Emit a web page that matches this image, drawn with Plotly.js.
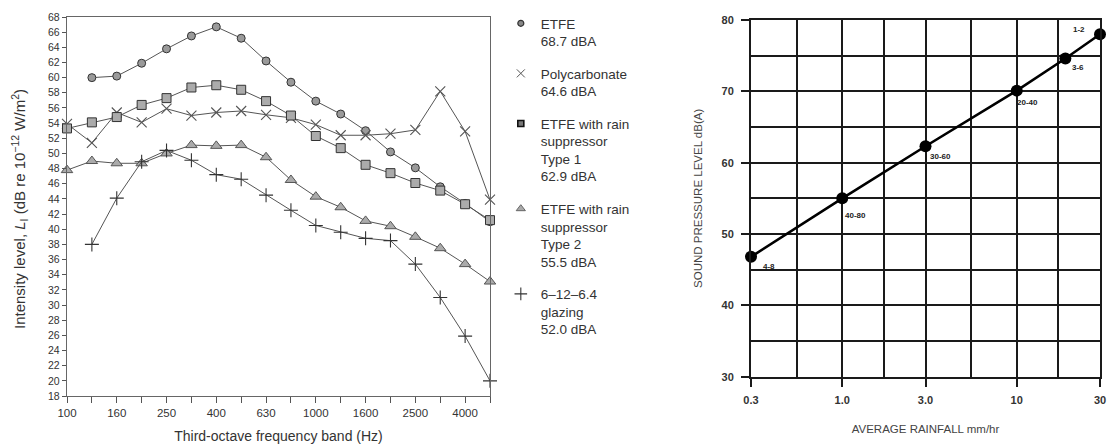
<!DOCTYPE html>
<html>
<head>
<meta charset="utf-8">
<script src="https://cdn.plot.ly/plotly-3.0.1.min.js"></script>
<style>
  html, body { margin: 0; padding: 0; background: #fff; }
  #chart { width: 1108px; height: 445px; }
</style>
</head>
<body>
<div id="chart"></div>
<script>
// Third-octave bands (Hz) and every-other-band tick labels
const bands = ['100','125','160','200','250','315','400','500','630','800','1000','1250','1600','2000','2500','3150','4000','5000'];
const bandLabels = ['100','','160','','250','','400','','630','','1000','','1600','','2500','','4000',''];

// Intensity level per band, dB re 1e-12 W/m²
const etfe     = [null, 60.0, 60.2, 61.9, 63.8, 65.5, 66.7, 65.2, 62.2, 59.4, 56.9, 55.2, 53.0, 50.2, 48.1, 45.6, 43.4, 41.0];
const polycarb = [53.9, 51.4, 55.4, 54.1, 55.9, 55.0, 55.4, 55.6, 55.1, 54.7, 53.8, 52.4, 52.4, 52.6, 53.1, 58.2, 52.9, 43.9];
const etfeType1 = [53.3, 54.1, 54.8, 56.4, 57.3, 58.7, 59.0, 58.4, 56.9, 55.0, 52.3, 50.7, 48.5, 47.4, 46.1, 45.1, 43.3, 41.2];
const etfeType2 = [47.8, 49.0, 48.7, 48.7, 50.0, 51.1, 51.0, 51.1, 49.5, 46.5, 44.3, 42.9, 41.1, 40.4, 39.0, 37.5, 35.4, 33.1];
const glazing  = [null, 38.0, 44.1, 48.9, 50.4, 49.1, 47.2, 46.6, 44.5, 42.5, 40.5, 39.6, 38.8, 38.5, 35.4, 31.0, 25.9, 20.0];

const seriesNames = [
  'ETFE<br>68.7 dBA',
  'Polycarbonate<br>64.6 dBA',
  'ETFE with rain<br>suppressor<br>Type 1<br>62.9 dBA',
  'ETFE with rain<br>suppressor<br>Type 2<br>55.5 dBA',
  '6\u201312\u20136.4<br>glazing<br>52.0 dBA'
];

// Rainfall vs sound pressure level
const rainfall = [0.3, 1.0, 3.0, 10, 19, 30];
const spl      = [46.8, 55.0, 62.3, 70.1, 74.6, 78.0];
const dropLabels = ['4-8', '40-80', '30-60', '20-40', '3-6', '1-2'];
const rainTicks = [0.3, 1.0, 3.0, 10, 30];
const rainTickText = ['0.3', '1.0', '3.0', '10', '30'];

const W = 1108, H = 445;
const dx = (a, b) => [a / W, b / W];
const dy = (top, bottom) => [(H - bottom) / H, (H - top) / H];

const lineCol = '#555';
const styles = [
  { symbol: 'circle',          size: 8,  color: '#9a9a9a', line: { color: '#333', width: 1 } },
  { symbol: 'x-thin-open',     size: 10, color: '#555',    line: { color: '#555', width: 1.1 } },
  { symbol: 'square',          size: 9,  color: '#ababab', line: { color: '#333', width: 1 } },
  { symbol: 'triangle-up',     size: 10, color: '#ababab', line: { color: '#555', width: 1 } },
  { symbol: 'cross-thin-open', size: 10, color: '#333',    line: { color: '#333', width: 1.1 } }
];
const legendStyles = [
  { symbol: 'circle',          size: 6, color: '#888',    line: { color: '#333', width: 1.2 } },
  { symbol: 'x-thin-open',     size: 8, color: '#555',    line: { color: '#555', width: 1 } },
  { symbol: 'square',          size: 6, color: '#777',    line: { color: '#111', width: 1.6 } },
  { symbol: 'triangle-up',     size: 8, color: '#aaa',    line: { color: '#666', width: 1 } },
  { symbol: 'cross-thin-open', size: 9, color: '#333',    line: { color: '#333', width: 1.1 } }
];

const allSeries = [etfe, polycarb, etfeType1, etfeType2, glazing];
const traces = [];
allSeries.forEach((vals, i) => {
  traces.push({
    type: 'scatter', mode: 'lines+markers', x: bands, y: vals,
    xaxis: 'x', yaxis: 'y', showlegend: false, cliponaxis: false,
    line: { color: lineCol, width: 1 },
    marker: styles[i], hoverinfo: 'x+y'
  });
});
// Marker-only legend entries
allSeries.forEach((vals, i) => {
  traces.push({
    type: 'scatter', mode: 'markers', x: [null], y: [null],
    xaxis: 'x', yaxis: 'y', name: seriesNames[i], legendgroup: 'g' + i,
    marker: legendStyles[i]
  });
});

traces.push({
  type: 'scatter', mode: 'lines+markers', x: rainfall, y: spl,
  xaxis: 'x2', yaxis: 'y2', showlegend: false, cliponaxis: false,
  line: { color: '#000', width: 2.6 },
  marker: { color: '#000', size: 12 }
});

const labelOffsets = [[18, -10], [13, -17], [15, -10], [11, -12], [13, -9], [-21, 5]];
const annotations = rainfall.map((r, i) => ({
  x: Math.log10(r), y: spl[i], xref: 'x2', yref: 'y2', text: dropLabels[i],
  showarrow: false, xanchor: 'center', yanchor: 'middle',
  xshift: labelOffsets[i][0], yshift: labelOffsets[i][1],
  font: { family: 'Liberation Sans, Arial, sans-serif', size: 8, color: '#222', weight: 'bold' }
}));

// Left-hand y title, set slightly below the plot's mid-height
annotations.push({
  xref: 'paper', yref: 'paper', x: 20 / W, y: (H - 209) / H,
  xanchor: 'center', yanchor: 'middle', textangle: -90, showarrow: false,
  text: 'Intensity level, <i>L</i><sub>I</sub> (dB re 10<sup>\u221212</sup> W/m<sup>2</sup>)',
  font: { family: 'Liberation Sans, Arial, sans-serif', size: 15, color: '#333' }
});

const tickFont = { family: 'Liberation Sans, Arial, sans-serif', size: 10.5, color: '#333' };
const gridW = 2;
const gridC = '#1a1a1a';

const layout = {
  width: W, height: H,
  margin: { l: 0, r: 0, t: 0, b: 0 },
  paper_bgcolor: '#fff', plot_bgcolor: '#fff',
  font: { family: 'Liberation Sans, Arial, sans-serif', color: '#333' },
  showlegend: true,
  legend: {
    x: 0.452, y: 0.982, xanchor: 'left', yanchor: 'top',
    traceorder: 'grouped', tracegroupgap: 12, valign: 'top',
    font: { family: 'Liberation Sans, Arial, sans-serif', size: 13.5, color: '#333' },
    bgcolor: 'rgba(0,0,0,0)', itemclick: false
  },
  xaxis: {
    domain: dx(67, 490), type: 'category', range: [0, 17],
    tickmode: 'array', tickvals: bands, ticktext: bandLabels,
    ticks: 'outside', ticklen: 6, tickcolor: '#555', tickwidth: 1,
    showline: true, linecolor: '#666', linewidth: 1.2, mirror: true,
    showgrid: false, zeroline: false, automargin: false,
    tickfont: { family: 'Liberation Sans, Arial, sans-serif', size: 11.5, color: '#333' },
    title: { text: 'Third-octave frequency band (Hz)', standoff: 13,
             font: { family: 'Liberation Sans, Arial, sans-serif', size: 14, color: '#333' } }
  },
  yaxis: {
    domain: dy(17, 396), range: [18, 68], dtick: 2, tick0: 18,
    ticks: 'outside', ticklen: 4, tickcolor: '#555', tickwidth: 1,
    showline: true, linecolor: '#666', linewidth: 1.2, mirror: true,
    showgrid: false, zeroline: false, automargin: false,
    tickfont: tickFont
  },
  xaxis2: {
    domain: dx(751, 1100), type: 'log', range: [Math.log10(0.3), Math.log10(30)],
    anchor: 'y2', tickmode: 'array', tickvals: rainTicks, ticktext: rainTickText,
    ticks: 'outside', ticklen: 8, tickcolor: gridC, tickwidth: gridW,
    showline: true, linecolor: gridC, linewidth: gridW, mirror: true,
    showgrid: true, gridcolor: gridC, gridwidth: gridW, zeroline: false, automargin: false,
    minor: { tickmode: 'array', tickvals: [Math.sqrt(0.3), Math.sqrt(3), Math.sqrt(30), Math.sqrt(300)],
             showgrid: true, gridcolor: gridC, gridwidth: gridW, ticks: '' },
    ticklabelstandoff: 4,
    tickfont: { family: 'Liberation Sans, Arial, sans-serif', size: 11, color: '#333', weight: 'bold' },
    title: { text: 'AVERAGE RAINFALL mm/hr', standoff: 20,
             font: { family: 'Liberation Sans, Arial, sans-serif', size: 11.5, color: '#444' } }
  },
  yaxis2: {
    domain: dy(20, 376.7), range: [30, 80], anchor: 'x2',
    tickmode: 'array', tickvals: [30, 40, 50, 60, 70, 80],
    ticks: 'outside', ticklen: 8, tickcolor: gridC, tickwidth: gridW,
    showline: true, linecolor: gridC, linewidth: gridW, mirror: true,
    showgrid: true, gridcolor: gridC, gridwidth: gridW, zeroline: false, automargin: false,
    minor: { dtick: 5, showgrid: true, gridcolor: gridC, gridwidth: gridW, ticks: '' },
    ticklabelstandoff: 5,
    tickfont: { family: 'Liberation Sans, Arial, sans-serif', size: 11, color: '#333', weight: 'bold' },
    title: { text: 'SOUND PRESSURE LEVEL dB(A)', standoff: 17,
             font: { family: 'Liberation Sans, Arial, sans-serif', size: 11.5, color: '#444' } }
  },
  annotations: annotations
};

Plotly.newPlot('chart', traces, layout, { displayModeBar: false, staticPlot: true });
</script>
</body>
</html>
